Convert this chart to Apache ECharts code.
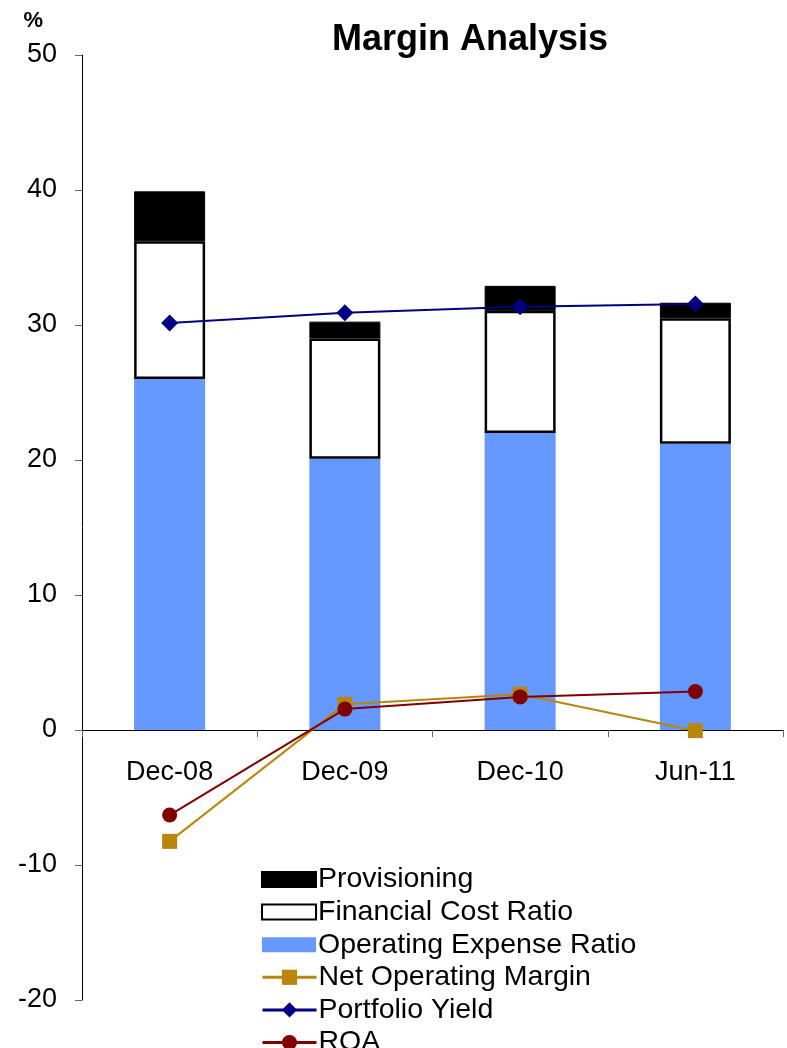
<!DOCTYPE html>
<html>
<head>
<meta charset="utf-8">
<script src="https://cdn.jsdelivr.net/npm/echarts@6/dist/echarts.min.js"></script>
<style>
  html, body { margin: 0; padding: 0; background: #fff; }
  #main { width: 787px; height: 1048px; }
</style>
</head>
<body>
<div id="main"></div>
<script>
// periods on the x axis
var periods = ['Dec-08', 'Dec-09', 'Dec-10', 'Jun-11'];

// stacked bar parts (%)
var opexRatio = [26.0, 20.1, 22.0, 21.2];
var finCostRatio = [10.2, 8.9, 9.05, 9.3];
var provisioning = [3.7, 1.25, 1.85, 1.15];

// lines (%)
var netOpMargin = [-8.25, 1.9, 2.65, -0.05];
var portfolioYield = [30.15, 30.9, 31.35, 31.55];
var roa = [-6.3, 1.55, 2.45, 2.85];

var font = 'Liberation Sans, Arial, sans-serif';
var legendText = { fontFamily: font, fontSize: 28.5, color: '#000', lineHeight: 31, padding: [0, 0, 0, -3] };

var myChart = echarts.init(document.getElementById('main'));

var option = {
    backgroundColor: '#fff',
    animation: false,
    title: {
        text: 'Margin Analysis',
        left: 327,
        top: 17,
        textStyle: { fontFamily: font, fontSize: 36, fontWeight: 'bold', color: '#000' }
    },
    grid: { left: 82, right: 4, top: 55, bottom: 48 },
    legend: [
        {
            orient: 'vertical',
            left: 256,
            top: 859,
            height: 120,
            itemWidth: 54,
            itemHeight: 15,
            itemGap: 1.6,
            textStyle: legendText,
            data: [
                { name: 'Provisioning', icon: 'rect' },
                { name: 'Financial Cost Ratio', icon: 'rect' },
                { name: 'Operating Expense Ratio', icon: 'rect' }
            ]
        },
        {
            orient: 'vertical',
            left: 256,
            top: 956.8,
            height: 300,
            itemWidth: 54,
            itemHeight: 19,
            itemGap: 1.6,
            textStyle: legendText,
            lineStyle: { width: 3 },
            data: ['Net Operating Margin', 'Portfolio Yield', 'ROA']
        }
    ],
    xAxis: {
        type: 'category',
        data: periods,
        position: 'bottom',
        offset: -270,
        axisLine: { onZero: false, lineStyle: { color: '#000', width: 1 } },
        axisTick: { show: true, length: 7, lineStyle: { color: '#666' } },
        axisLabel: { fontFamily: font, fontSize: 27, color: '#000', margin: 29 },
        splitLine: { show: false }
    },
    yAxis: {
        type: 'value',
        min: -20,
        max: 50,
        interval: 10,
        name: '%',
        nameLocation: 'end',
        nameGap: 23,
        nameTextStyle: { fontFamily: font, fontSize: 22, fontWeight: 'bold', color: '#000', align: 'right', padding: [0, 39, 0, 0] },
        axisLine: { show: true, lineStyle: { color: '#000', width: 1 } },
        axisTick: { show: true, inside: false, length: 7, lineStyle: { color: '#666' } },
        axisLabel: { fontFamily: font, fontSize: 27, color: '#000', margin: 25 },
        splitLine: { show: false }
    },
    series: [
        {
            name: 'Operating Expense Ratio',
            type: 'bar',
            stack: 'cost',
            barWidth: 71,
            data: opexRatio,
            itemStyle: { color: '#6699FF' }
        },
        {
            name: 'Financial Cost Ratio',
            type: 'bar',
            stack: 'cost',
            data: finCostRatio,
            itemStyle: { color: '#fff', borderColor: '#000', borderWidth: 2.5 }
        },
        {
            name: 'Provisioning',
            type: 'bar',
            stack: 'cost',
            data: provisioning,
            itemStyle: { color: '#000', borderColor: '#000', borderWidth: 1 }
        },
        {
            name: 'Net Operating Margin',
            type: 'line',
            data: netOpMargin,
            symbol: 'rect',
            symbolSize: 15,
            lineStyle: { color: '#B8860B', width: 2 },
            itemStyle: { color: '#B8860B' },
            z: 3
        },
        {
            name: 'Portfolio Yield',
            type: 'line',
            data: portfolioYield,
            symbol: 'diamond',
            symbolSize: 17,
            lineStyle: { color: '#000080', width: 2 },
            itemStyle: { color: '#000080' },
            z: 4
        },
        {
            name: 'ROA',
            type: 'line',
            data: roa,
            symbol: 'circle',
            symbolSize: 15,
            lineStyle: { color: '#800000', width: 2 },
            itemStyle: { color: '#800000' },
            z: 5
        }
    ]
};
myChart.setOption(option);
</script>
</body>
</html>
